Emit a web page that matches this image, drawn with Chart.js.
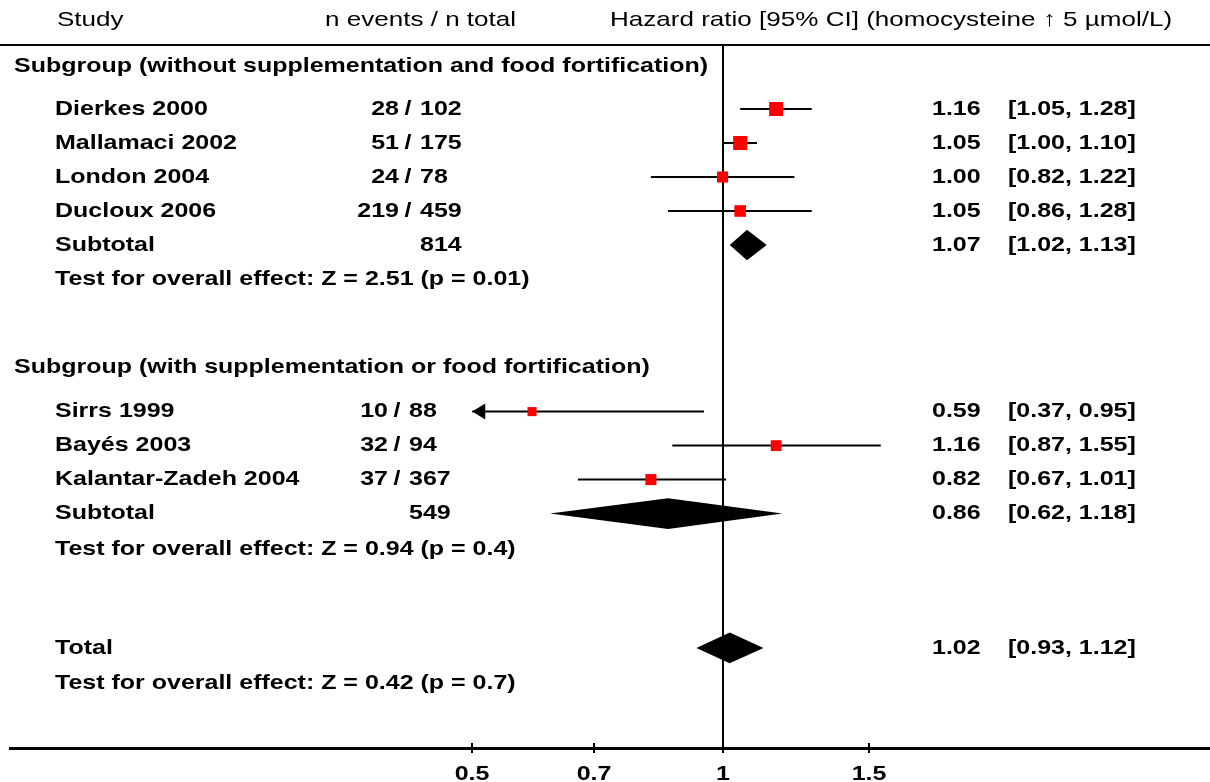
<!DOCTYPE html>
<html>
<head>
<meta charset="utf-8">
<title>Forest plot - homocysteine</title>
<script src="https://cdn.jsdelivr.net/npm/chart.js@4.4.0/dist/chart.umd.min.js"></script>
<style>
  html, body { margin: 0; padding: 0; background: #fff; }
  #wrap { width: 1210px; height: 782px; }
</style>
</head>
<body>
<div id="wrap"><canvas id="forestChart" width="1210" height="782"></canvas></div>
<script>
// --- data ---
const studies = ['Dierkes 2000', 'Mallamaci 2002', 'London 2004', 'Ducloux 2006',
                 'Sirrs 1999', 'Bayés 2003', 'Kalantar-Zadeh 2004'];
const studyGroup = [0, 0, 0, 0, 1, 1, 1];
const events = [28, 51, 24, 219, 10, 32, 37];
const totals = [102, 175, 78, 459, 88, 94, 367];
const hr = [1.16, 1.05, 1.00, 1.05, 0.59, 1.16, 0.82];
const hrLow = [1.05, 1.00, 0.82, 0.86, 0.37, 0.87, 0.67];
const hrHigh = [1.28, 1.10, 1.22, 1.28, 0.95, 1.55, 1.01];

const groupNames = ['Subgroup (without supplementation and food fortification)',
                    'Subgroup (with supplementation or food fortification)'];
const subN = [814, 549];
const subHr = [1.07, 0.86];
const subLow = [1.02, 0.62];
const subHigh = [1.13, 1.18];
const subTests = ['Test for overall effect: Z = 2.51 (p = 0.01)',
                  'Test for overall effect: Z = 0.94 (p = 0.4)'];

const totalHr = 1.02;
const totalLow = 0.93;
const totalHigh = 1.12;
const totalTest = 'Test for overall effect: Z = 0.42 (p = 0.7)';

const headers = ['Study', 'n events / n total', 'Hazard ratio [95% CI] (homocysteine \u2191 5 \u00b5mol/L)'];
const tickValues = [0.5, 0.7, 1, 1.5];

// --- layout (row positions, sizes) ---
const headerRow = -1.62;
const groupRows = [-0.25, 8.6];
const studyRows = [1, 2, 3, 4, 9.9, 10.9, 11.9];
const subRows = [5, 12.9];
const testRows = [6, 13.95];
const totalRow = 16.85;
const totalTestRow = 17.9;
const squareRadius = [9.9, 9.9, 7.8, 8.2, 6.4, 7.6, 7.8];
const slashX = [408, 397];
const plotMin = 0.5;      // CIs below this get an arrow
const diamondHalf = 0.45; // in rows

const FONT = '"Liberation Sans", Arial, sans-serif';
const SX = 1.19;

function drawText(ctx, text, x, y, align, font, sx) {
    ctx.save();
    ctx.translate(x, y);
    ctx.scale(sx || SX, 1);
    ctx.font = font || ('bold 21px ' + FONT);
    ctx.fillStyle = '#000';
    ctx.textAlign = align || 'left';
    ctx.textBaseline = 'middle';
    ctx.fillText(text, 0, 0);
    ctx.restore();
}

const forestDecor = {
    id: 'forestDecor',
    beforeDatasetsDraw(chart) {
        const {ctx, chartArea, scales: {x}} = chart;
        ctx.save();
        ctx.strokeStyle = '#000';
        // header rule
        ctx.lineWidth = 2;
        ctx.beginPath();
        ctx.moveTo(0, chartArea.top);
        ctx.lineTo(chart.width, chartArea.top);
        ctx.stroke();
        // line of no effect
        const x1 = Math.round(x.getPixelForValue(1));
        ctx.beginPath();
        ctx.moveTo(x1, chartArea.top);
        ctx.lineTo(x1, chartArea.bottom);
        ctx.stroke();
        ctx.restore();
    },
    afterDatasetsDraw(chart) {
        const {ctx, chartArea, scales: {x, y}} = chart;
        ctx.save();
        // diamonds
        const diamond = (est, lo, hi, row) => {
            const cy = y.getPixelForValue(row);
            const h = Math.abs(y.getPixelForValue(row + diamondHalf) - cy);
            ctx.beginPath();
            ctx.moveTo(x.getPixelForValue(lo), cy);
            ctx.lineTo(x.getPixelForValue(est), cy - h);
            ctx.lineTo(x.getPixelForValue(hi), cy);
            ctx.lineTo(x.getPixelForValue(est), cy + h);
            ctx.closePath();
            ctx.fillStyle = '#000';
            ctx.fill();
        };
        subHr.forEach((v, g) => diamond(v, subLow[g], subHigh[g], subRows[g]));
        diamond(totalHr, totalLow, totalHigh, totalRow);

        // arrows for clipped CIs
        hrLow.forEach((lo, i) => {
            if (lo >= plotMin) return;
            const ax = x.getPixelForValue(plotMin);
            const ay = y.getPixelForValue(studyRows[i]);
            ctx.beginPath();
            ctx.moveTo(ax, ay);
            ctx.lineTo(ax + 13, ay - 8);
            ctx.lineTo(ax + 13, ay + 8);
            ctx.closePath();
            ctx.fillStyle = '#000';
            ctx.fill();
        });

        // tick marks and labels
        const axisY = chartArea.bottom;
        ctx.strokeStyle = '#000';
        ctx.lineWidth = 2;
        tickValues.forEach(v => {
            const tx = Math.round(x.getPixelForValue(v));
            ctx.beginPath();
            ctx.moveTo(tx, axisY - 5);
            ctx.lineTo(tx, axisY + 5);
            ctx.stroke();
            drawText(ctx, String(v), tx, axisY + 26, 'center');
        });

        // header
        const hy = y.getPixelForValue(headerRow);
        const hFont = '21px ' + FONT;
        drawText(ctx, headers[0], 57, hy, 'left', hFont, 1.24);
        drawText(ctx, headers[1], 325, hy, 'left', hFont, 1.24);
        drawText(ctx, headers[2], 610, hy, 'left', hFont, 1.24);

        // groups
        groupNames.forEach((name, g) => {
            drawText(ctx, name, 14, y.getPixelForValue(groupRows[g]), 'left');
            const sy = y.getPixelForValue(subRows[g]);
            drawText(ctx, 'Subtotal', 55, sy, 'left');
            drawText(ctx, String(subN[g]), slashX[g] + 12, sy, 'left');
            drawText(ctx, subHr[g].toFixed(2), 932, sy, 'left');
            drawText(ctx, '[' + subLow[g].toFixed(2) + ', ' + subHigh[g].toFixed(2) + ']', 1008, sy, 'left');
            drawText(ctx, subTests[g], 55, y.getPixelForValue(testRows[g]), 'left');
        });

        // studies
        studies.forEach((name, i) => {
            const sy = y.getPixelForValue(studyRows[i]);
            const sx = slashX[studyGroup[i]];
            drawText(ctx, name, 55, sy, 'left');
            drawText(ctx, String(events[i]), sx - 9, sy, 'right');
            drawText(ctx, '/', sx, sy, 'center');
            drawText(ctx, String(totals[i]), sx + 12, sy, 'left');
            drawText(ctx, hr[i].toFixed(2), 932, sy, 'left');
            drawText(ctx, '[' + hrLow[i].toFixed(2) + ', ' + hrHigh[i].toFixed(2) + ']', 1008, sy, 'left');
        });

        // total
        const ty = y.getPixelForValue(totalRow);
        drawText(ctx, 'Total', 55, ty, 'left');
        drawText(ctx, totalHr.toFixed(2), 932, ty, 'left');
        drawText(ctx, '[' + totalLow.toFixed(2) + ', ' + totalHigh.toFixed(2) + ']', 1008, ty, 'left');
        drawText(ctx, totalTest, 55, y.getPixelForValue(totalTestRow), 'left');
        ctx.restore();
    }
};

// --- chart ---
const squareSet = {
    label: 'Hazard ratio',
    data: studies.map((s, i) => ({x: hr[i], y: studyRows[i]})),
    pointStyle: 'rect',
    pointRadius: squareRadius,
    pointBackgroundColor: '#ff0000',
    pointBorderWidth: 0,
    showLine: false,
    order: 0
};
const ciSets = studies.map((s, i) => ({
    label: s + ' CI',
    data: [{x: Math.max(hrLow[i], plotMin), y: studyRows[i]}, {x: hrHigh[i], y: studyRows[i]}],
    showLine: true,
    borderColor: '#000',
    borderWidth: 2,
    pointRadius: 0,
    order: 1
}));

const yMin = (45 - 75) / 34;
const yMax = (748 - 75) / 34;

new Chart(document.getElementById('forestChart').getContext('2d'), {
    type: 'scatter',
    data: { datasets: [squareSet, ...ciSets] },
    options: {
        responsive: false,
        animation: false,
        layout: { autoPadding: false, padding: { left: 10, right: 0, top: 45, bottom: 34 } },
        plugins: { legend: { display: false }, tooltip: { enabled: false } },
        scales: {
            x: {
                type: 'logarithmic',
                min: 0.139,
                max: 3.857,
                grid: { display: false, drawTicks: false },
                border: { display: true, color: '#000', width: 3 },
                ticks: { display: false },
                afterBuildTicks: scale => { scale.ticks = tickValues.map(v => ({value: v})); }
            },
            y: { type: 'linear', reverse: true, min: yMin, max: yMax, display: false }
        }
    },
    plugins: [forestDecor]
});
</script>
</body>
</html>
